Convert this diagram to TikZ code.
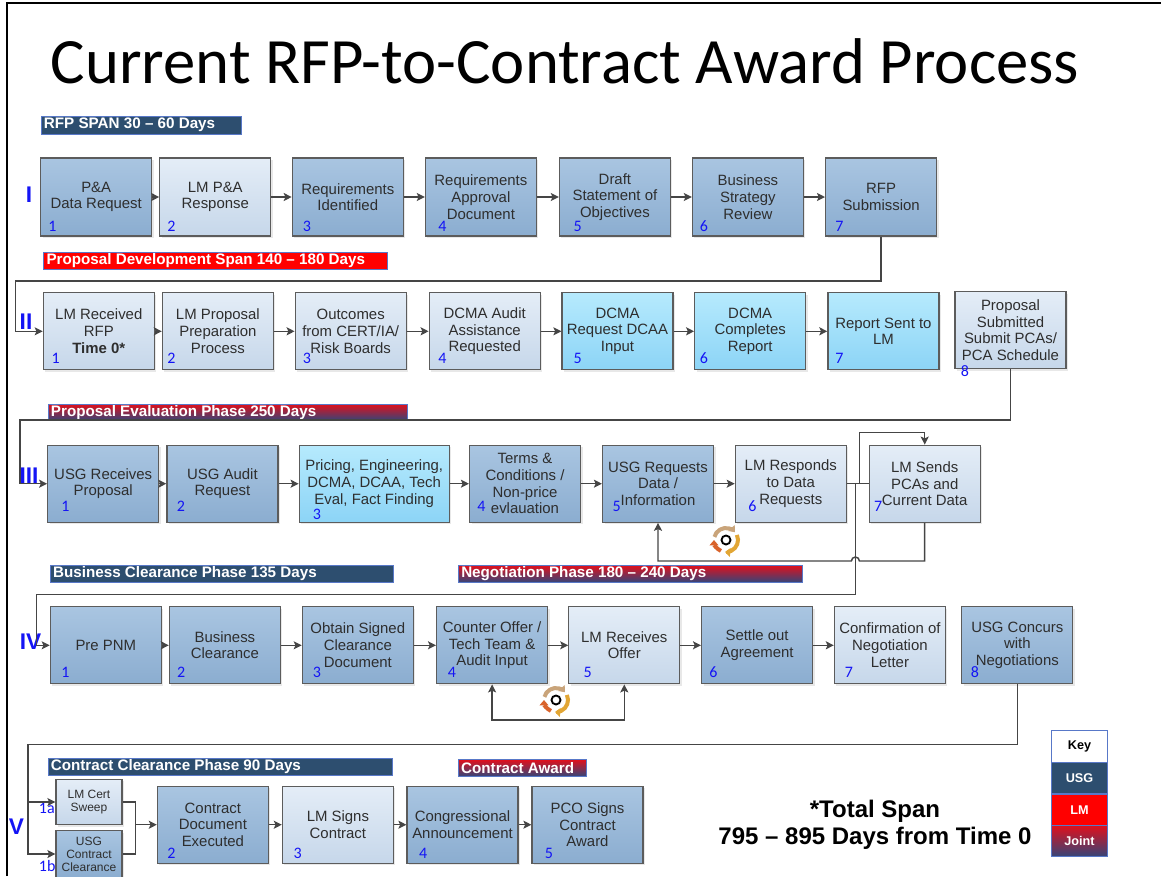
\documentclass[tikz,border=0pt]{standalone}
\usepackage{fontspec}
\setmainfont{Liberation Sans}
\newfontfamily\carl{Carlito}
\usetikzlibrary{arrows.meta,shadows,calc}
\definecolor{usgA}{HTML}{A9C5E1}
\definecolor{usgB}{HTML}{8BADD0}
\definecolor{lmA}{HTML}{E4EDF7}
\definecolor{lmB}{HTML}{C6D7EA}
\definecolor{jA}{HTML}{B6EAFD}
\definecolor{jB}{HTML}{8CD4F6}
\definecolor{bline}{HTML}{5C5C5C}
\definecolor{navy}{HTML}{2D4E6F}
\definecolor{bred}{HTML}{FF0000}
\definecolor{gred}{HTML}{E0101C}
\definecolor{gnavy}{HTML}{33467A}
\definecolor{bborder}{HTML}{5878C8}
\definecolor{numblue}{HTML}{1414F5}
\definecolor{conn}{HTML}{454545}
\definecolor{txt}{HTML}{2E2E2E}
\definecolor{tanc}{HTML}{C9A47A}
\definecolor{goldc}{HTML}{E2A634}
\definecolor{orc}{HTML}{D9632B}
\begin{document}
\begin{tikzpicture}[x=0.75pt,y=-0.75pt,
  wh/.style 2 args={minimum width=#1*0.75pt, minimum height=#2*0.75pt},
  box/.style={draw=bline, line width=0.9pt, wh={111}{77}, inner sep=1pt, align=center, text=txt,
    font=\fontsize{11.2}{12.5}\selectfont,
    drop shadow={opacity=0.18, shadow xshift=1.5pt, shadow yshift=-1.5pt}},
  usg/.style={box, top color=usgA, bottom color=usgB},
  lm/.style={box, top color=lmA, bottom color=lmB},
  jnt/.style={box, top color=jA, bottom color=jB},
  small/.style={font=\fontsize{9}{9.75}\selectfont},
  num/.style={anchor=base west, inner sep=0pt, text=numblue, font=\carl\fontsize{12}{12}\selectfont},
  phase/.style={inner sep=0pt, text=numblue, font=\bfseries\fontsize{17}{17}\selectfont},
  bannerbox/.style={draw=bborder, line width=0.6pt, anchor=north west, inner sep=0pt},
  bantext/.style={anchor=west, inner sep=0pt, text=white, font=\bfseries\fontsize{11.4}{12}\selectfont},
  keycell/.style={draw=bborder, line width=0.7pt, wh={55.6}{31.5}, inner sep=0pt, font=\bfseries\fontsize{9.5}{10}\selectfont},
  cn/.style={draw=conn, line width=1.1pt},
  tip/.style={-{Stealth[length=6pt,width=6pt,inset=1.3pt]}},
  arr/.style={cn, tip},
]
\useasboundingbox (0,0) rectangle (1161,876);
% frame
\draw[line width=1.5pt] (7,876) -- (7,3) -- (1161,3);
% title
\node[anchor=base, inner sep=0pt, font=\carl\fontsize{48.5}{48.5}\selectfont] (title) at (565,83) {Current RFP-to-Contract Award Process};

% banners
\node[bannerbox, fill=navy, wh={200.5}{17.7}] (bn1) at (40.7,116) {};
\node[bantext] (bt1) at ($(bn1.west)+(3,0)$) {RFP SPAN 30 – 60 Days};
\node[bannerbox, fill=bred, wh={343.3}{17}] (bn2) at (43.3,251.7) {};
\node[bantext] (bt2) at ($(bn2.west)+(3,0)$) {Proposal Development Span 140 – 180 Days};
\node[bannerbox, top color=gred, bottom color=gnavy, wh={359.6}{16.5}] (bn3) at (47.7,403.7) {};
\node[bantext] (bt3) at ($(bn3.west)+(3,0)$) {Proposal Evaluation Phase 250 Days};
\node[bannerbox, fill=navy, wh={343.4}{16.7}] (bn4) at (49.9,565) {};
\node[bantext] (bt4) at ($(bn4.west)+(3,0)$) {Business Clearance Phase 135 Days};
\node[bannerbox, top color=gred, bottom color=gnavy, wh={344.3}{17}] (bn5) at (458,565) {};
\node[bantext] (bt5) at ($(bn5.west)+(3,0)$) {Negotiation Phase 180 – 240 Days};
\node[bannerbox, fill=navy, wh={344.7}{16.7}] (bn6) at (47.6,758.3) {};
\node[bantext] (bt6) at ($(bn6.west)+(3,0)$) {Contract Clearance Phase 90 Days};
\node[bannerbox, top color=gred, bottom color=gnavy, wh={128.4}{16.7}] (bn7) at (457.9,759.3) {};
\node[bantext] (bt7) at ($(bn7.west)+(3,0)$) {Contract Award};

% phase labels
\node[phase] (pI) at (29,194.5) {I};
\node[phase] (pII) at (26,321.5) {II};
\node[phase] (pIII) at (29,476) {III};
\node[phase] (pIV) at (30.5,642) {IV};
\node[phase] (pV) at (16.4,826.5) {V};

% row I
\node[usg, wh={111}{78}] (r1b1) at (96.2,197) {P\&A\\Data Request};
\node[lm,  wh={111}{78}] (r1b2) at (215.3,197) {LM P\&A\\Response};
\node[usg, wh={111}{78}] (r1b3) at (347.8,197) {Requirements\\Identified};
\node[usg, wh={111}{78}] (r1b4) at (480.9,197) {Requirements\\Approval\\Document};
\node[usg, wh={111}{78}] (r1b5) at (614.9,197) {Draft\\Statement of\\Objectives};
\node[usg, wh={111}{78}] (r1b6) at (747.9,197) {Business\\Strategy\\Review};
\node[usg, wh={111}{78}] (r1b7) at (881.1,197) {RFP\\Submission};

% row II
\node[lm] (r2b1) at (98.8,331.3) {LM Received\\RFP\\\textbf{Time 0*}};
\node[lm] (r2b2) at (217.9,331.3) {LM Proposal\\Preparation\\Process};
\node[lm] (r2b3) at (350.7,331.3) {Outcomes\\from CERT/IA/\\Risk Boards};
\node[lm] (r2b4) at (484.7,331.3) {DCMA Audit\\Assistance\\Requested};
\node[jnt] (r2b5) at (617.5,331.3) {DCMA\\Request DCAA\\Input};
\node[jnt] (r2b6) at (750.2,331.3) {DCMA\\Completes\\Report};
\node[jnt] (r2b7) at (883.4,331.3) {Report Sent to\\LM};
\node[lm] (r2b8) at (1010.5,330.3) {Proposal\\Submitted\\Submit PCAs/\\PCA Schedule};

% row III
\node[usg] (r3b1) at (103.2,483.7) {USG Receives\\Proposal};
\node[usg] (r3b2) at (222.4,483.7) {USG Audit\\Request};
\node[jnt, wh={150}{77}] (r3b3) at (374.2,483.7) {Pricing, Engineering,\\DCMA, DCAA, Tech\\Eval, Fact Finding};
\node[usg] (r3b4) at (525,483.7) {Terms \&\\Conditions /\\Non-price\\evlauation};
\node[usg] (r3b5) at (658,483.7) {USG Requests\\Data /\\Information};
\node[lm] (r3b6) at (790.8,483.7) {LM Responds\\to Data\\Requests};
\node[lm] (r3b7) at (924.7,483.7) {LM Sends\\PCAs and\\Current Data};

% row IV
\node[usg] (r4b1) at (105.8,645.3) {Pre PNM};
\node[usg] (r4b2) at (224.9,645.3) {Business\\Clearance};
\node[usg] (r4b3) at (357.8,645.3) {Obtain Signed\\Clearance\\Document};
\node[usg] (r4b4) at (492.1,645.3) {Counter Offer /\\Tech Team \&\\Audit Input};
\node[lm] (r4b5) at (624.3,645.3) {LM Receives\\Offer};
\node[usg] (r4b6) at (757.1,645.3) {Settle out\\Agreement};
\node[lm] (r4b7) at (889.9,645.3) {Confirmation of\\Negotiation\\Letter};
\node[usg] (r4b8) at (1017.3,645.3) {USG Concurs\\with\\Negotiations};

% row V
\node[lm, small, wh={66}{45.4}] (r5b1a) at (89,802) {LM Cert\\Sweep};
\node[usg, small, wh={66}{47}] (r5b1b) at (89,854) {USG\\Contract\\Clearance};
\node[usg] (r5b2) at (212.9,824.7) {Contract\\Document\\Executed};
\node[lm] (r5b3) at (337.9,824.7) {LM Signs\\Contract};
\node[usg] (r5b4) at (462.5,824.7) {Congressional\\Announcement};
\node[usg] (r5b5) at (587.5,824.7) {PCO Signs\\Contract\\Award};

% numbers
\foreach \x [count=\i] in {48,167,302.6,438,573.4,699.7,835.2}
  \node[num] (nI\i) at (\x,231.7) {\i};
\foreach \x [count=\i] in {51.4,167.2,302.6,438,573.4,699.7,835.2}
  \node[num] (nII\i) at (\x,363.3) {\i};
\node[num] (nII8) at (960.7,376) {8};
\foreach \x/\y [count=\i] in {61/511.7,176.5/511.7,312.6/519,477/511.7,612.4/511.7,748/511.7,873.8/511.7}
  \node[num] (nIII\i) at (\x,\y) {\i};
\foreach \x [count=\i] in {61,176.8,312.6,447.7,583.3,709,844.7,970.6}
  \node[num] (nIV\i) at (\x,677.3) {\i};
\foreach \x [count=\i from 2] in {167,293.4,418.8,544.6}
  \node[num] (nV\i) at (\x,858.3) {\i};
\node[num] (nV1a) at (38.7,813.3) {1a};
\node[num] (nV1b) at (38.7,871) {1b};

% row connectors
\foreach \a/\b in {1/2,2/3,3/4,4/5,5/6,6/7}
  \draw[arr] (r1b\a) -- (r1b\b);
\foreach \a/\b in {1/2,2/3,3/4,4/5,5/6,6/7}
  \draw[arr] (r2b\a.east) -- (r2b\b.west);
\foreach \a/\b in {1/2,2/3,3/4,4/5,5/6}
  \draw[arr] (r3b\a) -- (r3b\b);
\draw[cn] (r3b6) -- (r3b7);
\foreach \a/\b in {1/2,2/3,3/4,4/5,5/6,6/7}
  \draw[arr] (r4b\a) -- (r4b\b);
\foreach \a/\b in {2/3,3/4,4/5}
  \draw[arr] (r5b\a) -- (r5b\b);

% row I -> row II
\coordinate (j1a) at (881.1,281);
\coordinate (j1b) at (15.5,281);
\draw[arr] (r1b7.south) -- (j1a) -- (j1b) |- (r2b1.west);
% row II -> row III
\coordinate (j2a) at (1010.5,420);
\coordinate (j2b) at (20,420);
\draw[arr] (r2b8.south) -- (j2a) -- (j2b) |- (r3b1.west);
% row III branch up to box 7
\coordinate (jA) at (859.7,483.7);
\coordinate (jB) at (859.7,432.7);
\draw[arr] (jA) -- (jB) -| (r3b7.north);
% row III -> row IV
\coordinate (jD) at (855.4,483.7);
\coordinate (jE) at (855.4,594.3);
\coordinate (jF) at (36.3,594.3);
\draw[arr] (jD) -- (jE) -- (jF) |- (r4b1.west);
% feedback loop row III
\coordinate (fb1) at (924.7,561);
\coordinate (fb2) at (859.4,561);
\coordinate (fb3) at (658,561);
\draw[arr] (r3b7.south) -- (fb1) -- (fb2) arc (0:-180:4) -- (fb3) -- (r3b5.south);
% loop row IV
\coordinate (l4) at (558,720);
\draw[cn, {Stealth[length=6pt,width=6pt,inset=1.3pt]}-{Stealth[length=6pt,width=6pt,inset=1.3pt]}] (r4b4.south) |- (l4) -| (r4b5.south);
% row IV -> row V
\coordinate (j4a) at (1017.3,744.3);
\coordinate (j4b) at (28.2,744.3);
\coordinate (j4c) at (28.2,802);
\draw[arr] (r4b8.south) -- (j4a) -- (j4b) |- (r5b1b.west);
\draw[arr] (j4c) -- (r5b1a.west);
% merge
\coordinate (m1) at (135.5,802);
\coordinate (m2) at (135.5,854);
\draw[cn] (r5b1a.east) -- (m1) -- (m2) -- (r5b1b.east);
\draw[arr] (m1 |- r5b2) -- (r5b2.west);

% cycle icons
\foreach \cx/\cy [count=\k] in {726/540,556/700}{
  \begin{scope}[shift={(\cx,\cy)}]
    \coordinate (ic\k) at (0,0);
    \draw[line width=1.4pt, black] (ic\k) circle (4.5);
    \draw[line width=3pt, tanc, -{Triangle[length=4pt,width=6.5pt]}] (195:12) arc (195:318:12);
    \draw[line width=3pt, goldc, -{Triangle[length=4pt,width=6.5pt]}] (335:12) arc (335:455:12);
    \draw[line width=3pt, orc, -{Triangle[length=4pt,width=6.5pt]}] (115:12) arc (115:180:12);
  \end{scope}
}

% total span
\node[anchor=base, inner sep=0pt, font=\bfseries\fontsize{18}{18}\selectfont] (ts1) at (875,817.7) {*Total Span};
\node[anchor=base, inner sep=0pt, font=\bfseries\fontsize{18}{18}\selectfont] (ts2) at (875,844) {795 – 895 Days from Time 0};

% key
\node[keycell, fill=white, text=black] (k0) at (1079.5,746.3) {Key};
\node[keycell, fill=navy, text=white] (k1) at (1079.5,778) {USG};
\node[keycell, fill=bred, text=white] (k2) at (1079.5,809.8) {LM};
\node[keycell, top color=gred, bottom color=gnavy, text=white] (k3) at (1079.5,841.2) {Joint};
\end{tikzpicture}
\end{document}
